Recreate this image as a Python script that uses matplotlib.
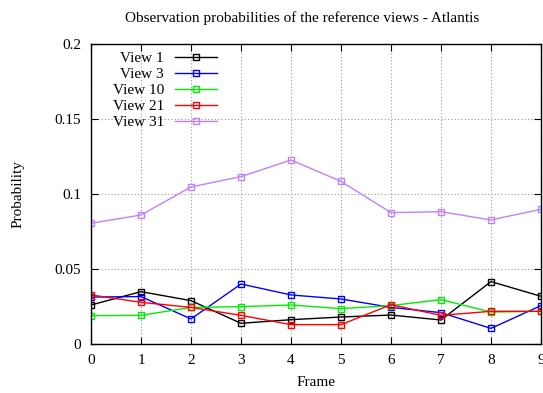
import matplotlib
matplotlib.use("Agg")
import matplotlib.pyplot as plt

frames = list(range(10))
view1 = [0.0260, 0.0349, 0.0289, 0.0138, 0.0162, 0.0180, 0.0193, 0.0160, 0.0416, 0.0318]
view3 = [0.0313, 0.0316, 0.0167, 0.0400, 0.0327, 0.0300, 0.0244, 0.0209, 0.0104, 0.0256]
view10 = [0.0189, 0.0191, 0.0244, 0.0249, 0.0260, 0.0236, 0.0256, 0.0296, 0.0213, 0.0218]
view21 = [0.0327, 0.0278, 0.0244, 0.0191, 0.0129, 0.0129, 0.0262, 0.0191, 0.0218, 0.0218]
view31 = [0.0805, 0.0860, 0.1047, 0.1116, 0.1227, 0.1084, 0.0876, 0.0882, 0.0827, 0.0898]

series = [("View 1", view1, "#000000"),
          ("View 3", view3, "#0000ff"),
          ("View 10", view10, "#00ee00"),
          ("View 21", view21, "#ff0000"),
          ("View 31", view31, "#c080ff")]

yticks = [0, 0.05, 0.1, 0.15, 0.2]
ylabels = ["0", "0.05", "0.1", "0.15", "0.2"]

plt.rcParams['font.family'] = ['Liberation Serif', 'DejaVu Serif']
fig = plt.figure(figsize=(5.43, 3.93), dpi=100)
ax = fig.add_axes([91/543, 1-344/393, 450/543, 300/393])

for name, vals, col in series:
    ax.plot(frames, vals, color=col, lw=1.0, marker='s', markersize=5,
            markerfacecolor='none', markeredgecolor=col, markeredgewidth=1.0, label=name)

ax.set_xlim(0, 9)
ax.set_ylim(0, 0.2)
ax.set_xticks(frames)
ax.set_yticks(yticks)
ax.set_yticklabels(ylabels)
ax.tick_params(direction='in', length=5, top=True, right=True, labelsize=11, pad=7, width=0.8)
ax.grid(True, color='#999999', linestyle=(0, (1, 2)), linewidth=0.8)
for s in ax.spines.values():
    s.set_linewidth(1.0)

fig.text(302/543, 1-18/393, "Observation probabilities of the reference views - Atlantis",
         fontsize=11, ha='center', va='center')
ax.set_xlabel("Frame", fontsize=11, labelpad=7)
ax.set_ylabel("Probability", fontsize=11, labelpad=22)

leg = ax.legend(loc='upper left', bbox_to_anchor=(14/450, 1.0), frameon=False, markerfirst=False,
                fontsize=11, handlelength=2.75, labelspacing=0.15, borderaxespad=0.3,
                handletextpad=0.7, borderpad=0.2)
for col in leg._legend_handle_box.get_children():
    col.align = "right"

fig.savefig("out.png", dpi=100, facecolor='white')
